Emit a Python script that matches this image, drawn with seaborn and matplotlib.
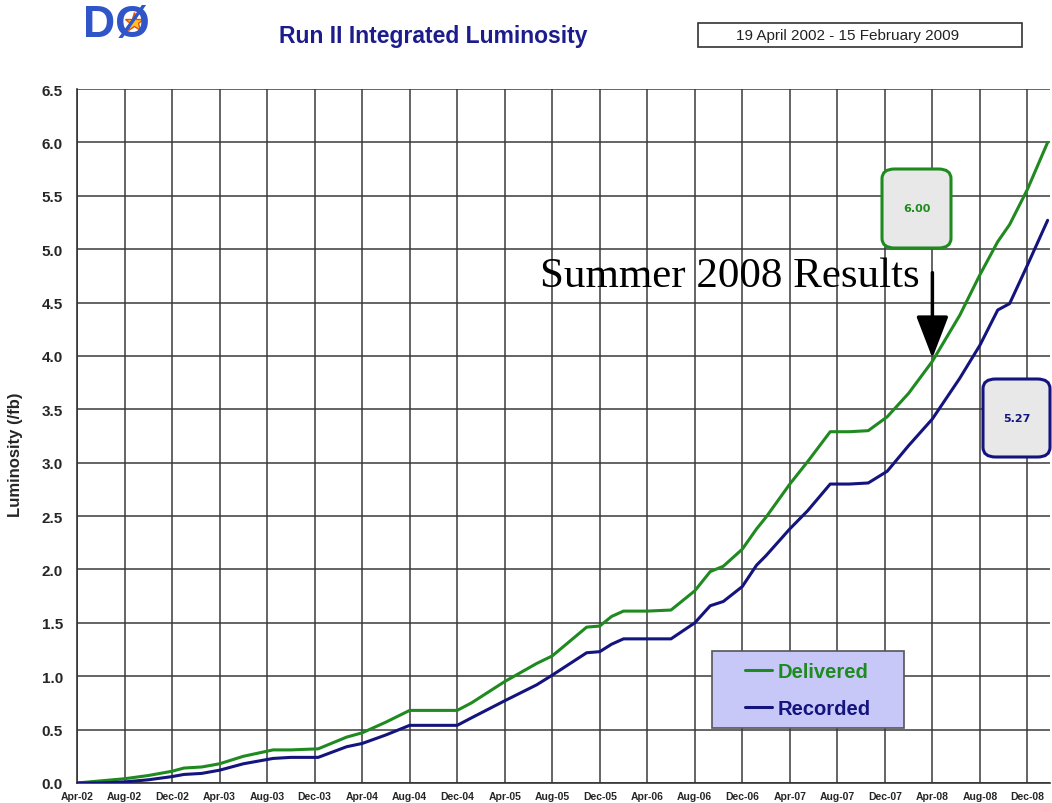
import numpy as np
import pandas as pd
import matplotlib.pyplot as plt
import seaborn as sns
from matplotlib.lines import Line2D
from matplotlib.patches import FancyBboxPatch, Rectangle

# months since April 2002
months = [0, 2, 4, 6, 8, 9, 10.5, 12, 14, 16.5, 18, 20.3, 22.7, 24, 26, 28, 30, 32,
          33.2, 36, 38.7, 40, 42.9, 44, 45, 46, 48, 50, 52, 53.3, 54.4, 56, 57.2, 58,
          60, 61.5, 63.4, 65, 66.6, 68.2, 70, 72, 74.3, 76, 77.5, 78.5, 80, 81.7]
delivered = [0.0, 0.02, 0.04, 0.07, 0.11, 0.14, 0.15, 0.18, 0.25, 0.31, 0.31, 0.32,
             0.43, 0.47, 0.57, 0.68, 0.68, 0.68, 0.75, 0.95, 1.12, 1.19, 1.46, 1.47,
             1.56, 1.61, 1.61, 1.62, 1.80, 1.98, 2.03, 2.19, 2.38, 2.49, 2.80, 3.01,
             3.29, 3.29, 3.30, 3.43, 3.65, 3.95, 4.38, 4.76, 5.07, 5.23, 5.56, 6.00]
recorded = [0.0, 0.0, 0.01, 0.03, 0.06, 0.08, 0.09, 0.12, 0.18, 0.23, 0.24, 0.24,
            0.34, 0.37, 0.45, 0.54, 0.54, 0.54, 0.61, 0.77, 0.92, 1.01, 1.22, 1.23,
            1.30, 1.35, 1.35, 1.35, 1.50, 1.66, 1.70, 1.84, 2.04, 2.13, 2.38, 2.55,
            2.80, 2.80, 2.81, 2.92, 3.16, 3.41, 3.79, 4.10, 4.43, 4.49, 4.85, 5.27]

tick_labels = ['Apr-02', 'Aug-02', 'Dec-02', 'Apr-03', 'Aug-03', 'Dec-03', 'Apr-04',
               'Aug-04', 'Dec-04', 'Apr-05', 'Aug-05', 'Dec-05', 'Apr-06', 'Aug-06',
               'Dec-06', 'Apr-07', 'Aug-07', 'Dec-07', 'Apr-08', 'Aug-08', 'Dec-08']
tick_months = [4 * i for i in range(len(tick_labels))]
final_values = ['6.00', '5.27']

green = '#1f8a1f'
navy = '#14147e'
W, H = 1052, 804

df = pd.DataFrame({
    'month': months + months,
    'lumi': delivered + recorded,
    'series': ['Delivered'] * len(months) + ['Recorded'] * len(months),
})

sns.set_style('white')
plt.rcParams['font.family'] = ['Liberation Sans', 'DejaVu Sans']

fig = plt.figure(figsize=(W / 100, H / 100), dpi=100)
ax = fig.add_axes([77 / W, 1 - 784 / H, (1050 - 77) / W, (784 - 90) / H])

sns.lineplot(data=df, x='month', y='lumi', hue='series',
             palette={'Delivered': green, 'Recorded': navy},
             linewidth=2.2, legend=False, ax=ax, zorder=3)

ax.set_xlim(0, 81.9)
ax.set_ylim(0, 6.5)
ax.set_xticks(tick_months)
ax.set_xticklabels(tick_labels, fontsize=7.5, fontweight='bold')
ax.set_yticks(np.arange(0, 6.51, 0.5))
ax.set_yticklabels(['%.1f' % v for v in np.arange(0, 6.51, 0.5)], fontsize=11, fontweight='bold')
ax.tick_params(axis='both', length=4, width=1, color='#333333', pad=2)
ax.tick_params(axis='y', pad=6)
ax.grid(True, color='#3a3a3a', linewidth=1.1)
ax.set_axisbelow(True)
for s in ['left', 'bottom']:
    ax.spines[s].set_color('#333333')
    ax.spines[s].set_linewidth(1.2)
for s in ['top', 'right']:
    ax.spines[s].set_visible(False)
ax.set_xlabel('')
ax.set_ylabel('Luminosity (/fb)', fontsize=12, fontweight='bold')
ax.yaxis.set_label_coords(-0.0555, 0.474)

# legend box
fig.add_artist(Rectangle((712 / W, 1 - 729 / H), 192 / W, 77 / H,
                         transform=fig.transFigure, facecolor='#c8c8f8',
                         edgecolor='#555555', linewidth=1.2, zorder=4))
handles = [Line2D([], [], color=green, linewidth=2.2), Line2D([], [], color=navy, linewidth=2.2)]
leg = fig.legend(handles, ['Delivered', 'Recorded'], loc='center',
                 bbox_to_anchor=(808 / W, 1 - 691 / H), fontsize=14.5, frameon=False,
                 handlelength=1.35, handletextpad=0.3, labelspacing=0.9,
                 borderpad=0, borderaxespad=0)
for t, c in zip(leg.get_texts(), [green, navy]):
    t.set_color(c)
    t.set_fontweight('bold')
leg.set_zorder(5)

# final value boxes (figure pixel coordinates)
def value_box(x0, y0, x1, y1, text, color):
    box = FancyBboxPatch((x0 / W, 1 - y1 / H), (x1 - x0) / W, (y1 - y0) / H,
                         boxstyle='round,pad=0,rounding_size=0.012',
                         transform=fig.transFigure, facecolor='#e8e8e8',
                         edgecolor=color, linewidth=2.2, zorder=6)
    fig.add_artist(box)
    fig.text((x0 + x1) / 2 / W, 1 - (y0 + y1) / 2 / H, text, color=color,
             fontsize=8, fontweight='bold', ha='center', va='center',
             family='DejaVu Sans', zorder=7)

value_box(882, 170, 951, 249, final_values[0], green)
value_box(983, 380, 1050, 458, final_values[1], navy)

# annotation
ax.annotate('', xy=(72, 3.98), xytext=(72, 4.78),
            arrowprops=dict(arrowstyle='-|>,head_length=2.6,head_width=1.0',
                            color='black', linewidth=2.5, shrinkA=0, shrinkB=0),
            zorder=6)
fig.text(540 / W, 1 - 277 / H, 'Summer 2008 Results', fontsize=31,
         family=['Liberation Serif', 'DejaVu Serif'], ha='left', va='center',
         color='black')

# header
fig.text(433 / W, 1 - 36 / H, 'Run II Integrated Luminosity', fontsize=16.5,
         fontweight='bold', color='#1c1c8c', ha='center', va='center')
fig.add_artist(Rectangle((698 / W, 1 - 48 / H), 324 / W, 24 / H,
                         transform=fig.transFigure, facecolor='white',
                         edgecolor='#333333', linewidth=1.2))
fig.text(848 / W, 1 - 36 / H, '19 April 2002 - 15 February 2009', fontsize=11,
         color='#222222', ha='center', va='center')
fig.text(116 / W, 1 - 25 / H, 'DØ', fontsize=32, fontweight='bold',
         color='#2f55c8', ha='center', va='center')
fig.add_artist(Line2D([134 / W], [1 - 23 / H], marker='*', markersize=14,
                      markerfacecolor='#ffc020', markeredgecolor='#e05010',
                      transform=fig.transFigure))

fig.savefig('out.png', dpi=100)
